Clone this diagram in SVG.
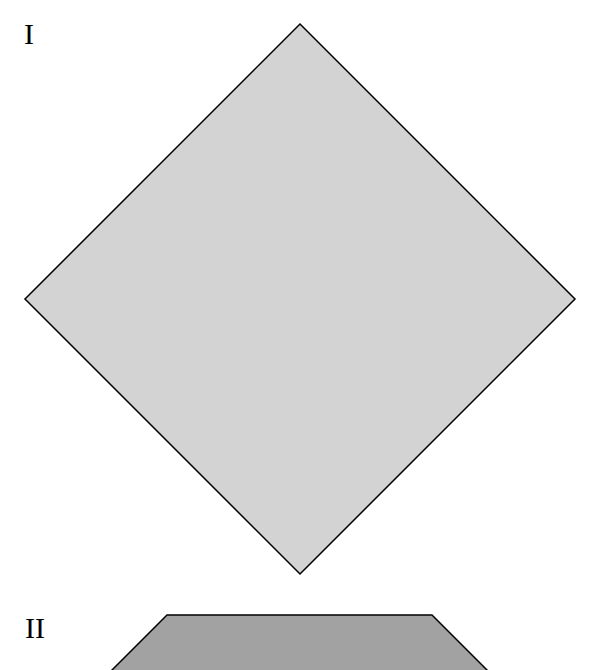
<svg xmlns="http://www.w3.org/2000/svg" width="599" height="670" viewBox="0 0 599 670">
<style>
.lbl{font-family:"Liberation Serif","Times New Roman",serif;font-size:30px;fill:#000}
.sh{stroke:#000;stroke-width:1.5;stroke-linejoin:miter}
</style>
<rect width="599" height="670" fill="#fff"/>
<g id="shape-I">
<polygon class="sh" points="300,24 575,299 300,574 25,299" fill="#d3d3d3"/>
<text class="lbl" x="24" y="44">I</text>
</g>
<g id="shape-II">
<polygon class="sh" points="167,615 432,615 492,675 107,675" fill="#a2a2a2"/>
<text class="lbl" x="25" y="637.5">II</text>
</g>
</svg>
